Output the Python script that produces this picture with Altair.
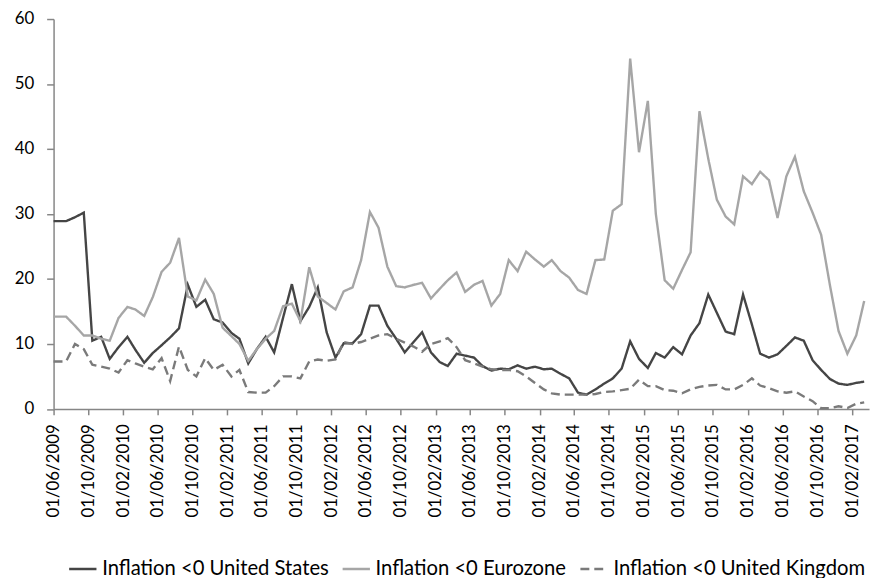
import altair as alt
import pandas as pd

# Observation dates: first point on 01/06/2009, then mid-month through March 2017
dates = ["2009-06-01T00:00:00"] + [
    f"{y}-{m:02d}-15T00:00:00"
    for y in range(2009, 2018)
    for m in range(1, 13)
    if (2009, 7) <= (y, m) <= (2017, 3)
]

S_US = "Inflation <0 United States"
S_EZ = "Inflation <0 Eurozone"
S_UK = "Inflation <0 United Kingdom"

us = [28.9, 28.9, 29.5, 30.2, 10.5, 11.1, 7.7, 9.5, 11.1, 9.1,
      7.1, 8.6, 9.8, 11.0, 12.4, 19.1, 15.7, 16.8, 13.8, 13.3,
      11.7, 10.8, 7.0, 9.2, 11.1, 8.7, 14.0, 19.2, 13.5, 15.7,
      18.7, 11.8, 7.9, 10.1, 10.1, 11.5, 15.9, 15.9, 12.8, 10.8,
      8.7, 10.3, 11.8, 8.7, 7.2, 6.6, 8.5, 8.2, 7.9, 6.6,
      5.9, 6.2, 6.1, 6.7, 6.2, 6.5, 6.1, 6.2, 5.4, 4.7,
      2.5, 2.2, 3.0, 3.9, 4.7, 6.2, 10.4, 7.7, 6.3, 8.6,
      7.9, 9.5, 8.4, 11.3, 13.2, 17.6, 14.8, 11.9, 11.5, 17.6,
      13.0, 8.5, 7.9, 8.4, 9.7, 11.0, 10.5, 7.5, 6.0, 4.6,
      3.9, 3.7, 4.0, 4.2]

ez = [14.2, 14.2, 12.8, 11.3, 11.3, 10.8, 10.5, 14.0, 15.7, 15.3,
      14.3, 17.2, 21.1, 22.5, 26.3, 17.3, 16.7, 19.9, 17.7, 12.5,
      11.2, 10.0, 7.4, 9.2, 10.8, 12.0, 15.8, 16.2, 13.5, 21.8,
      17.3, 16.3, 15.3, 18.1, 18.7, 22.9, 30.3, 27.9, 21.9, 18.9,
      18.7, 19.1, 19.4, 17.0, 18.5, 19.8, 21.0, 18.0, 19.1, 19.7,
      15.9, 17.7, 22.9, 21.2, 24.2, 23.0, 21.9, 22.9, 21.2, 20.2,
      18.3, 17.7, 22.9, 23.0, 30.5, 31.5, 53.9, 39.5, 47.4, 30.0,
      19.8, 18.5, 21.4, 24.1, 45.8, 38.5, 32.2, 29.6, 28.4, 35.8,
      34.6, 36.5, 35.2, 29.4, 35.8, 38.8, 33.5, 30.2, 26.8, 19.0,
      12.0, 8.5, 11.3, 16.6]

uk = [7.3, 7.3, 10.0, 9.2, 6.8, 6.5, 6.2, 5.6, 7.5, 7.0,
      6.5, 6.1, 7.8, 4.3, 9.6, 6.0, 5.0, 7.8, 6.0, 6.8,
      5.0, 6.0, 2.6, 2.5, 2.5, 3.5, 5.0, 5.0, 4.7, 7.3,
      7.6, 7.4, 7.6, 10.3, 10.0, 10.3, 10.8, 11.3, 11.5, 10.8,
      10.2, 9.6, 8.8, 10.0, 10.4, 10.9, 9.5, 7.5, 7.0, 6.5,
      6.1, 6.0, 6.0, 5.8, 5.0, 4.0, 3.0, 2.4, 2.2, 2.2,
      2.2, 2.2, 2.3, 2.6, 2.7, 2.9, 3.1, 4.5, 3.5, 3.5,
      2.9, 2.8, 2.4, 3.0, 3.4, 3.6, 3.7, 3.0, 3.0, 3.7,
      4.7, 3.6, 3.2, 2.7, 2.5, 2.7, 1.9, 1.2, 0.1, 0.1,
      0.4, 0.15, 0.8, 1.0]

series_names = [S_US, S_EZ, S_UK]
series_vals = [us, ez, uk]
colors = ["#454545", "#a6a6a6", "#7a7a7a"]
dashes = [[1, 0], [1, 0], [9, 5]]

rows = []
for order, (name, vals) in enumerate(zip(series_names, series_vals)):
    for d, v in zip(dates, vals):
        rows.append({"date": d, "value": v, "series": name, "order": order})
df = pd.DataFrame(rows)

tick_dates = []
y, m = 2009, 6
while (y, m) <= (2017, 2):
    tick_dates.append(alt.DateTime(year=y, month=m, date=1))
    m += 4
    if m > 12:
        m -= 12
        y += 1

legend = alt.Legend(
    orient="none", legendX=14, legendY=539.5, direction="horizontal", title=None,
    symbolType="stroke", symbolSize=760, symbolStrokeWidth=2.5,
    labelFont="Lato", labelFontSize=20.4, labelColor="#000000",
    labelOffset=4, columnPadding=8, padding=0, labelLimit=400,
)

chart = alt.Chart(df).mark_line(strokeWidth=2.4).encode(
    x=alt.X("date:T",
            scale=alt.Scale(domain=[alt.DateTime(year=2009, month=6, date=1),
                                    alt.DateTime(year=2017, month=4, date=1)], nice=False),
            axis=alt.Axis(values=tick_dates, format="%d/%m/%Y", labelAngle=270,
                          tickSize=6, labelPadding=9, title=None)),
    y=alt.Y("value:Q", scale=alt.Scale(domain=[0, 60], nice=False),
            axis=alt.Axis(values=[0, 10, 20, 30, 40, 50, 60], tickSize=7,
                          labelPadding=13, title=None)),
    color=alt.Color("series:N", scale=alt.Scale(domain=series_names, range=colors), legend=legend),
    strokeDash=alt.StrokeDash("series:N", scale=alt.Scale(domain=series_names, range=dashes), legend=legend),
    order=alt.Order("order:Q"),
).properties(
    width=823, height=393.5,
    autosize=alt.AutoSizeParams(type="none"),
    padding={"left": 46, "top": 8.5, "right": 3, "bottom": 168},
).configure_view(stroke=None).configure_axis(
    labelFont="Lato", labelFontSize=17, labelColor="#000000",
    domainColor="#868686", tickColor="#868686", domainWidth=1.5, tickWidth=1.5,
    grid=False,
)

chart.save("out.html", embed_options={"renderer": "svg", "actions": False})
